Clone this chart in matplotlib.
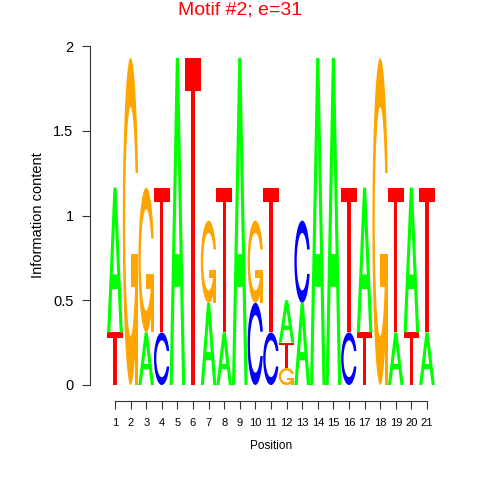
import numpy as np
import matplotlib
matplotlib.use("Agg")
import matplotlib.pyplot as plt
from matplotlib.patches import Polygon

plt.rcParams["font.family"] = ["Liberation Sans", "DejaVu Sans"]

# information content (bits) per base at each motif position
positions = list(range(1, 22))
bits_A = [0.855, 0, 0.31, 0, 1.93, 0, 0.485, 0.31, 1.93, 0, 0, 0.25, 0.485,
          1.93, 1.93, 0, 0.855, 0, 0.31, 0.855, 0.31]
bits_C = [0, 0, 0, 0.31, 0, 0, 0, 0, 0, 0.485, 0.31, 0, 0.485,
          0, 0, 0.31, 0, 0, 0, 0, 0]
bits_G = [0, 1.93, 0.855, 0, 0, 0, 0.485, 0, 0, 0.485, 0, 0.10, 0,
          0, 0, 0, 0, 1.93, 0, 0, 0]
bits_T = [0.31, 0, 0, 0.855, 0, 1.93, 0, 0.855, 0, 0, 0.855, 0.15, 0,
          0, 0, 0.855, 0.31, 0, 0.855, 0.31, 0.855]

bases = ["A", "C", "G", "T"]
base_colors = {"A": "#00FF00", "C": "#0000FF", "G": "#FFA500", "T": "#FF0000"}


# letter outlines in a unit box (seqLogo style polygons)
def c_ring():
    outer = np.linspace(0.3, 2 * np.pi - 0.3, 120)
    a_in = np.arcsin(0.148 / 0.35)
    inner = np.linspace(2 * np.pi - a_in, a_in, 120)
    xo = 0.5 + 0.5 * np.cos(outer)
    yo = 0.5 + 0.5 * np.sin(outer)
    xi = 0.5 + 0.35 * np.cos(inner)
    yi = 0.5 + 0.35 * np.sin(inner)
    return np.column_stack([np.r_[xo, xi], np.r_[yo, yi]])


def letter_shapes(ch):
    # list of (points, is_hole)
    if ch == "A":
        outer = np.array([(0, 0), (4, 10), (6, 10), (10, 0), (8, 0),
                          (6.8, 3), (3.2, 3), (2, 0)]) * 0.1
        hole = np.array([(3.6, 4), (5, 7.5), (6.4, 4)]) * 0.1
        return [(outer, False), (hole, True)]
    if ch == "T":
        pts = np.array([(0, 10), (10, 10), (10, 9), (6, 9), (6, 0),
                        (4, 0), (4, 9), (0, 9)]) * 0.1
        return [(pts, False)]
    if ch == "C":
        return [(c_ring(), False)]
    if ch == "G":
        r1 = 0.5 + 0.5 * np.cos(0.3)
        bar = np.array([(r1, 0.4), (0.5, 0.4), (0.5, 0.3), (r1 - 0.2, 0.3),
                        (r1 - 0.2, 0), (r1, 0)])
        return [(c_ring(), False), (bar, False)]
    return []


def draw_letter(ax, ch, xpos, ypos, ht, wt=1.0):
    for pts, hole in letter_shapes(ch):
        xy = np.column_stack([xpos - wt / 2 + wt * pts[:, 0], ypos + ht * pts[:, 1]])
        ax.add_patch(Polygon(xy, closed=True, lw=0,
                             fc="white" if hole else base_colors[ch]))


fig = plt.figure(figsize=(4.8, 4.8), dpi=100)
# axes placed in pixels: left 90, right 445, top 46 (y=2), bottom 401
ax = fig.add_axes([90 / 480, (480 - 401) / 480, 355 / 480, 355 / 480])

heights = {"A": bits_A, "C": bits_C, "G": bits_G, "T": bits_T}
for i, pos in enumerate(positions):
    col = [(b, heights[b][i]) for b in bases]
    col.sort(key=lambda t: t[1])
    y0 = 0.0
    for b, h in col:
        if h > 0:
            draw_letter(ax, b, pos, y0, h)
            y0 += h

ax.set_xlim(1 - 25 / 15.6, 1 + 330 / 15.6)
ax.set_ylim(-16 / 169.5, 2.0)

for s in ["top", "right"]:
    ax.spines[s].set_visible(False)
for s in ["left", "bottom"]:
    ax.spines[s].set_color("#333333")
    ax.spines[s].set_linewidth(0.8)
ax.spines["left"].set_bounds(0, 2)
ax.spines["bottom"].set_bounds(1, 21)

ax.set_yticks([0, 0.5, 1, 1.5, 2])
ax.set_yticklabels(["0", "0.5", "1", "1.5", "2"])
ax.set_xticks(positions)
ax.set_xticklabels([str(p) for p in positions])
ax.tick_params(axis="y", length=5.8, width=0.8, color="#333333", pad=6,
               labelsize=10.5)
ax.tick_params(axis="x", length=5.5, width=0.8, color="#333333", pad=7,
               labelsize=8)

fig.text(38 / 480, 1 - 215.5 / 480, "Information content", rotation=90,
         ha="center", va="center", fontsize=10.5)
fig.text(271 / 480, 1 - 446 / 480, "Position", ha="center", va="center",
         fontsize=8.5)
fig.text(0.5, 1 - 10 / 480, "Motif #2; e=31", ha="center", va="center",
         fontsize=14, color="red")

fig.savefig("out.png", dpi=100)
plt.close(fig)
